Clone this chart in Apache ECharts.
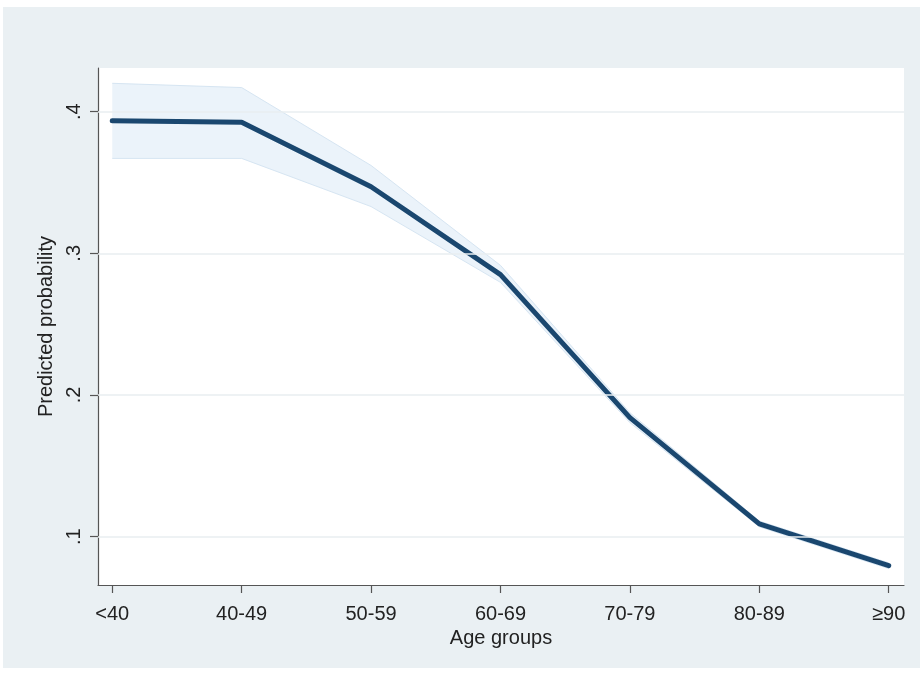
<!DOCTYPE html>
<html>
<head>
<meta charset="utf-8">
<script src="https://cdn.jsdelivr.net/npm/echarts@6/dist/echarts.min.js"></script>
<style>
  html, body { margin: 0; padding: 0; background: #ffffff; }
  #chart { width: 920px; height: 674px; }
</style>
</head>
<body>
<div id="chart"></div>
<script>
// Age groups on the horizontal axis
const ageGroups = ['<40', '40-49', '50-59', '60-69', '70-79', '80-89', '\u226590'];
// Predicted probability for each age group
const predicted = [0.3935, 0.3925, 0.347, 0.285, 0.184, 0.109, 0.0795];
// 95% confidence band
const ciLower = [0.367, 0.367, 0.333, 0.2795, 0.1805, 0.107, 0.0775];
const ciUpper = [0.420, 0.417, 0.362, 0.2915, 0.1875, 0.111, 0.0815];
// Y-axis ticks
const yTicks = [0.1, 0.2, 0.3, 0.4];

const fontFamily = "'Liberation Sans', Arial, sans-serif";
const idx = ageGroups.map((_, i) => i);

const chart = echarts.init(document.getElementById('chart'), null, { renderer: 'canvas' });

// Confidence band: one polygon through the upper edge and back along the lower edge
function renderBand(params, api) {
  if (params.dataIndex !== 0) return null;
  const upperPts = idx.map(i => api.coord([i, ciUpper[i]]));
  const lowerPts = idx.map(i => api.coord([i, ciLower[i]]));
  const poly = upperPts.concat(lowerPts.slice().reverse());
  return {
    type: 'group',
    children: [
      { type: 'polygon', shape: { points: poly }, style: { fill: 'rgba(205, 225, 243, 0.4)', stroke: null } },
      { type: 'polyline', shape: { points: upperPts }, style: { stroke: '#d6e5f2', lineWidth: 1, fill: null } },
      { type: 'polyline', shape: { points: lowerPts }, style: { stroke: '#d6e5f2', lineWidth: 1, fill: null } }
    ]
  };
}

chart.setOption({
  backgroundColor: '#ffffff',
  animation: false,
  graphic: [{
    type: 'rect',
    z: -10,
    shape: { x: 3, y: 7, width: 917, height: 661 },
    style: { fill: '#eaf0f3' },
    silent: true
  }],
  grid: {
    left: 98, top: 68, right: 16, bottom: 89,
    show: true, backgroundColor: '#ffffff', borderWidth: 0
  },
  xAxis: {
    type: 'value',
    min: -0.11,
    max: 6.118,
    name: 'Age groups',
    nameLocation: 'middle',
    nameGap: 41,
    nameTextStyle: { fontFamily, fontSize: 20, color: '#222' },
    axisLine: { show: true, onZero: false, lineStyle: { color: '#555', width: 1.2 } },
    axisTick: { show: true, length: 8, customValues: idx, lineStyle: { color: '#555', width: 1.2 } },
    axisLabel: {
      customValues: idx,
      margin: 19,
      fontFamily, fontSize: 20, color: '#222',
      formatter: v => ageGroups[Math.round(v)]
    },
    splitLine: { show: false }
  },
  yAxis: {
    type: 'value',
    min: 0.0659,
    max: 0.4308,
    name: 'Predicted probability',
    nameLocation: 'middle',
    nameGap: 42,
    nameTextStyle: { fontFamily, fontSize: 20, color: '#222' },
    axisLine: { show: true, onZero: false, lineStyle: { color: '#555', width: 1.2 } },
    axisTick: { show: true, length: 8, customValues: yTicks, lineStyle: { color: '#555', width: 1.2 } },
    axisLabel: {
      customValues: yTicks,
      rotate: 90,
      margin: 14,
      fontFamily, fontSize: 20, color: '#222',
      formatter: v => v.toFixed(1).replace(/^0/, '')
    },
    splitLine: { show: false }
  },
  series: [
    {
      // horizontal grid lines at the y ticks
      type: 'line',
      z: 1,
      silent: true,
      data: idx.map(i => [i, predicted[i]]),
      symbol: 'none',
      lineStyle: { opacity: 0 },
      markLine: {
        silent: true,
        symbol: 'none',
        label: { show: false },
        lineStyle: { color: '#e8eef0', width: 1.5, type: 'solid' },
        data: yTicks.map(t => ({ yAxis: t }))
      }
    },
    {
      type: 'custom',
      z: 2,
      silent: true,
      renderItem: renderBand,
      data: idx.map(i => [i, ciLower[i], ciUpper[i]]),
      encode: { x: 0, y: [1, 2] }
    },
    {
      type: 'line',
      z: 3,
      symbol: 'none',
      data: idx.map(i => [i, predicted[i]]),
      lineStyle: { color: '#1a476f', width: 5, join: 'round', cap: 'round' }
    }
  ]
});
</script>
</body>
</html>
